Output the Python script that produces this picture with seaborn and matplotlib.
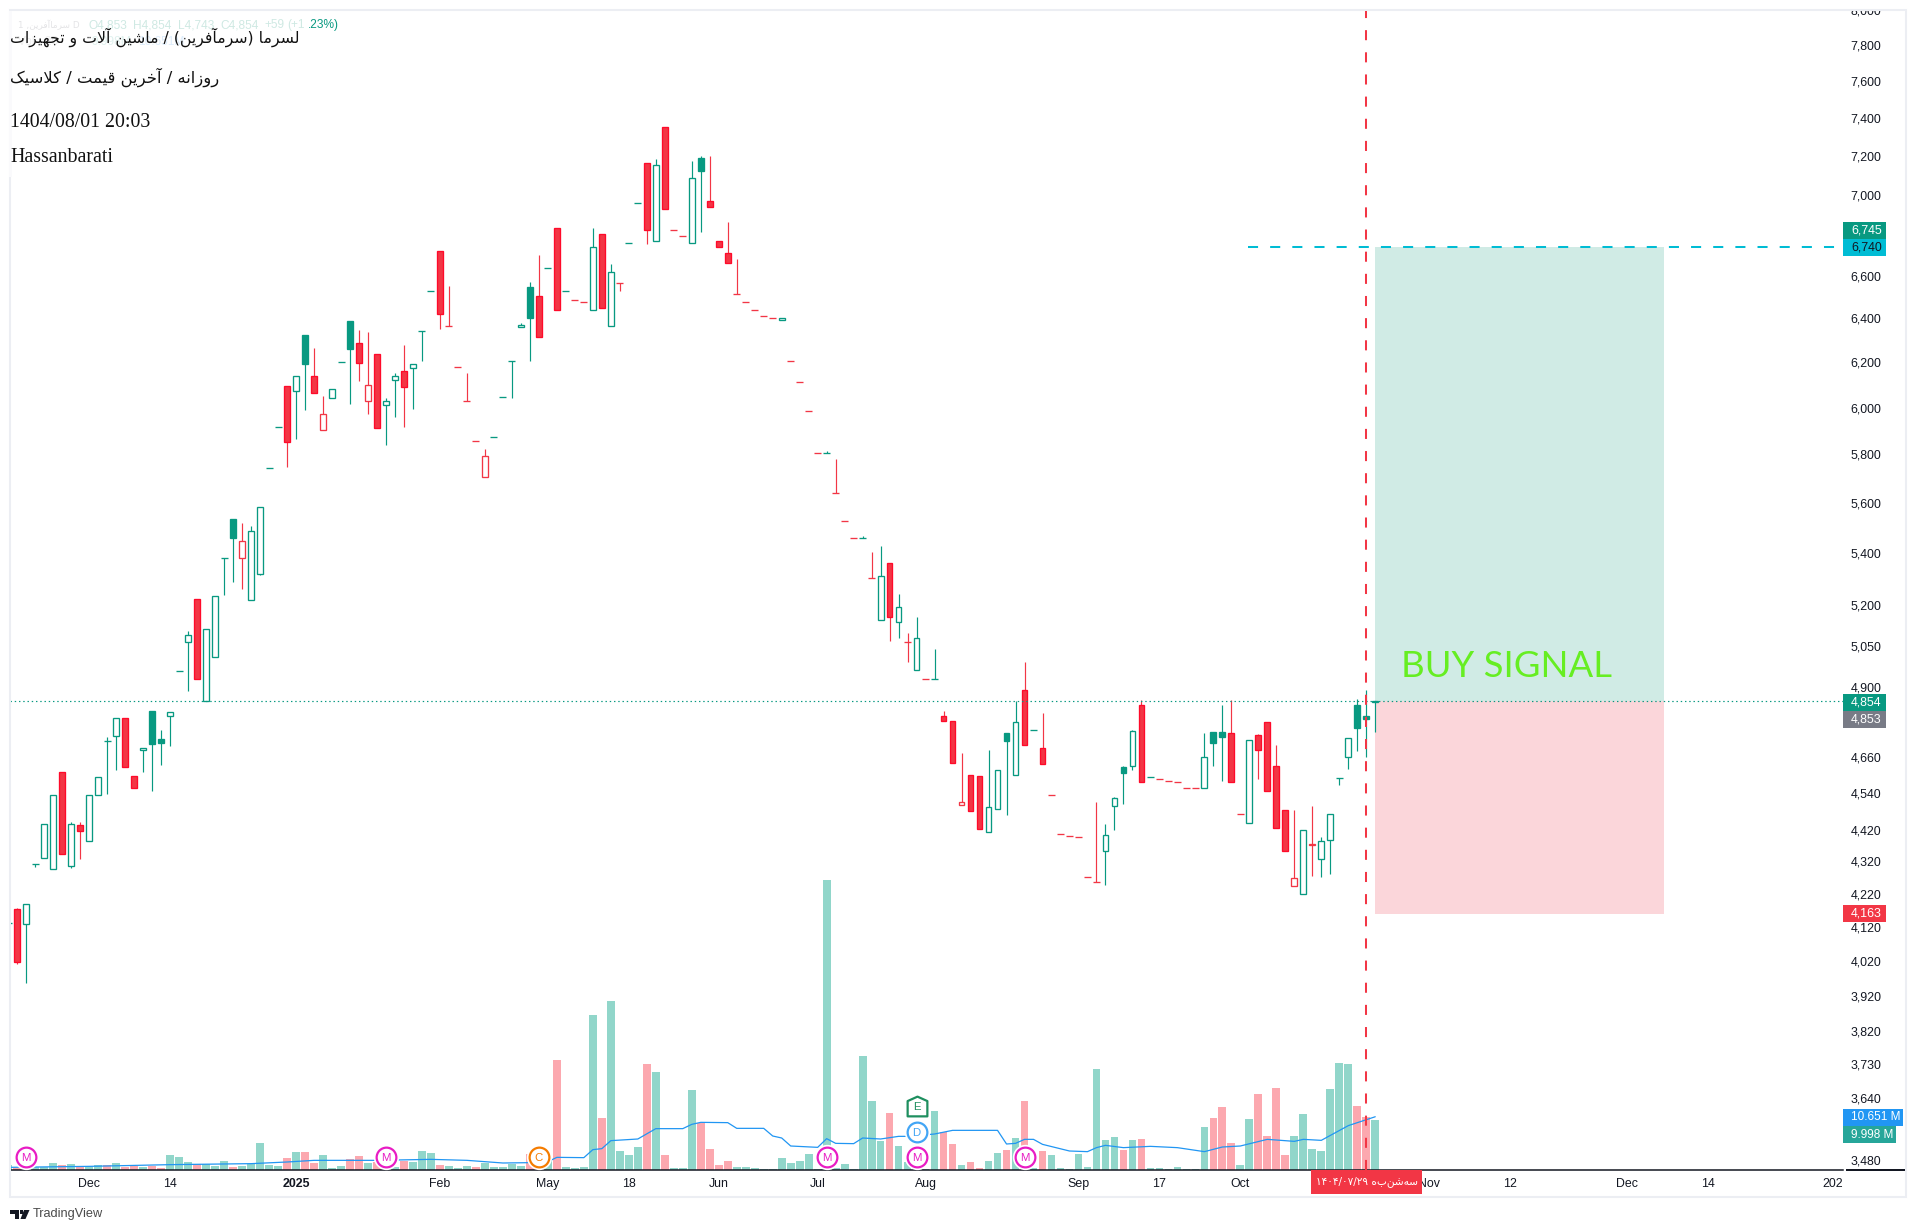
import re
import numpy as np
import pandas as pd
import matplotlib
matplotlib.use("Agg")
import matplotlib.pyplot as plt
from matplotlib.patches import Rectangle, Polygon
from matplotlib.ticker import FixedLocator, FuncFormatter, NullLocator
from matplotlib.transforms import blended_transform_factory
from matplotlib.path import Path
import seaborn as sns

# ---------- data ----------
opens = [4131,4172,4128,4311,4329,4295,4607,4304,4434,4383,4534,4712,4729,4791,4594,4681,4815,4719,4798,4957,
 5062,5222,4853,5010,5379,5533,5379,5218,5320,5745,5918,6092,6074,6322,6137,5901,6043,6199,6386,6285,
 6030,6239,6013,6119,6159,6172,6340,6530,6722,6363,6177,6030,5858,5704,5875,6047,6206,6358,6545,6506,
 6636,6831,6526,6487,6478,6441,6801,6363,6564,6761,6955,7160,6771,7353,6821,6791,6761,7190,6965,6771,
 6712,6516,6478,6441,6409,6400,6391,6204,6110,5983,5807,5807,5642,5525,5458,5458,5302,5144,5360,5136,
 5065,4960,4928,4928,4798,4781,4501,4597,4594,4412,4488,4739,4597,4892,4750,4691,4534,4405,4399,4396,
 4270,4255,4351,4495,4624,4628,4836,4591,4584,4577,4574,4557,4554,4554,4743,4743,4739,4472,4440,4732,
 4777,4628,4482,4245,4218,4370,4326,4386,4588,4658,4836,4798,4849]
highs = [4131,4178,4189,4311,4437,4534,4607,4445,4445,4534,4591,4726,4791,4791,4594,4691,4815,4750,4812,4957,
 5103,5222,5110,5233,5379,5533,5517,5505,5585,5745,5918,6092,6137,6322,6266,6052,6079,6199,6386,6345,
 6335,6239,6043,6150,6276,6190,6340,6530,6722,6554,6177,6150,5858,5824,5875,6047,6206,6377,6569,6699,
 6636,6831,6526,6487,6478,6831,6801,6655,6564,6761,6955,7160,7180,7353,6821,6791,7170,7200,7200,6771,
 6860,6683,6478,6441,6409,6400,6400,6204,6110,5983,5807,5816,5779,5525,5458,5466,5406,5426,5360,5242,
 5095,5155,4928,5036,4815,4781,4672,4597,4594,4684,4614,4739,4853,4989,4750,4808,4534,4405,4399,4396,
 4270,4508,4437,4527,4628,4750,4856,4591,4584,4577,4574,4557,4554,4739,4743,4836,4856,4472,4715,4736,
 4777,4698,4482,4485,4418,4495,4396,4472,4588,4722,4860,4892,4850]
lows = [4131,4012,3957,4303,4329,4295,4342,4300,4328,4383,4534,4536,4616,4624,4554,4610,4546,4633,4697,4957,
 4887,4928,4853,5010,5239,5289,5262,5218,5316,5745,5918,5748,5865,5989,6065,5901,6043,6199,6015,6117,
 5972,5910,5840,5960,5914,5994,6206,6530,6352,6363,6177,6030,5858,5704,5875,6047,6041,6358,6206,6312,
 6636,6441,6526,6487,6478,6441,6450,6363,6528,6761,6955,6754,6771,6925,6821,6791,6761,6814,6935,6741,
 6664,6516,6478,6441,6409,6400,6391,6204,6110,5983,5807,5807,5642,5525,5458,5458,5302,5144,5068,5079,
 4991,4960,4928,4928,4781,4638,4501,4479,4421,4412,4488,4468,4597,4698,4750,4634,4534,4405,4399,4396,
 4270,4255,4247,4420,4504,4614,4574,4591,4584,4577,4574,4557,4554,4554,4629,4578,4576,4472,4440,4586,
 4544,4424,4351,4245,4218,4275,4272,4282,4567,4620,4680,4660,4743]
closes = [4131,4016,4189,4311,4437,4534,4342,4437,4415,4534,4591,4712,4791,4624,4554,4691,4704,4707,4812,4957,
 5088,4928,5110,5233,5379,5460,5446,5485,5585,5745,5918,5854,6137,6193,6065,5974,6079,6199,6260,6195,
 6097,5910,6030,6137,6088,6190,6340,6530,6418,6363,6177,6030,5858,5791,5875,6047,6206,6370,6403,6312,
 6636,6441,6526,6487,6478,6741,6450,6616,6564,6761,6955,6821,7149,6925,6821,6791,7083,7119,6935,6741,
 6664,6516,6478,6441,6409,6400,6400,6204,6110,5983,5807,5807,5642,5525,5458,5458,5302,5310,5155,5192,
 5065,5077,4928,4928,4781,4638,4508,4479,4421,4492,4614,4714,4777,4698,4750,4634,4534,4405,4399,4396,
 4270,4255,4402,4524,4604,4746,4574,4591,4584,4577,4574,4557,4554,4658,4707,4728,4576,4472,4715,4684,
 4544,4424,4351,4267,4418,4376,4383,4472,4588,4722,4757,4790,4850]
red_candles = [0,5,7,12,13,20,25,30,33,34,38,39,40,43,47,48,49,50,51,52,58,60,62,63,65,67,70,72,73,74,77,78,79,
 80,81,82,83,84,86,87,88,89,91,92,93,95,97,99,101,103,104,105,106,107,112,114,115,116,117,118,119,120,125,
 127,128,129,130,131,135,136,138,139,140,141,142,144]
volumes = [1.0,.47,.33,.67,.67,1.4,1.0,1.2,.73,.73,1.0,.93,1.4,.67,.73,.67,.87,.4,3.0,2.6,
 1.6,1.13,1.2,.87,1.8,.67,.87,1.27,5.4,1.0,.8,2.4,3.6,3.6,1.4,3.0,.4,.8,2.2,2.8,
 1.4,1.6,.47,.6,1.8,1.6,3.8,3.4,1.0,.8,.4,.8,.6,1.4,.6,.6,1.2,.8,3.2,.47,
 2.1,22.0,.6,.4,.6,31.0,10.4,33.8,3.8,3.0,4.6,21.2,19.6,3.0,.4,.4,16.0,9.5,4.2,1.0,
 1.8,.6,.6,.4,.2,.2,2.4,1.4,1.8,3.2,.2,58.0,.5,1.2,.2,22.8,13.8,5.8,11.4,4.8,
 1.6,.3,.2,11.8,7.6,5.2,1.0,1.6,.4,1.8,3.4,4.0,6.4,13.8,.5,3.8,3.0,.4,.2,3.2,
 .6,20.2,6.0,6.6,4.0,6.0,6.2,.4,.4,.2,.6,.2,.2,8.6,10.4,12.6,5.4,1.0,10.2,15.2,
 6.8,16.4,3.0,6.8,11.2,4.2,3.8,16.2,21.4,21.2,12.8,10.6,9.998]
red_volumes = [0,5,7,10,12,13,15,16,20,24,30,32,33,37,38,40,43,47,51,57,58,60,65,70,72,76,77,78,79,97,103,104,
 106,107,110,112,114,123,125,133,134,135,138,139,140,141,149,150]
ma_bars = [-1,8,17,26,30,33,40,46,50,54,57,59,60,63,64,65,66,69,71,74,75,76,79,80,83,84,85,86,89,90,91,93,94,96,
 98,99,102,104,109,110,111,112,113,114,117,119,120,121,123,126,129,132,134,136,139,142,143,145,148,151]
ma_vals = [.53,.73,1.07,1.27,1.6,1.93,1.93,2.13,1.93,1.4,1.47,1.67,2.53,2.47,4.07,4.27,5.87,6.2,8.27,8.27,9.13,
 9.53,9.47,8.33,8.33,6.8,6.4,4.8,4.53,6.27,5.33,5.27,6.4,6.2,6.73,6.73,7.2,7.93,7.93,5.2,5.33,6.13,6.13,5.13,
 3.8,3.67,4.47,4.93,4.47,4.73,4.47,3.67,4.6,4.8,6.13,5.73,6.13,5.93,8.87,10.651]
price_ticks = [8000,7800,7600,7400,7200,7000,6600,6400,6200,6000,5800,5600,5400,5200,5050,4900,4660,4540,4420,
 4320,4220,4120,4020,3920,3820,3730,3640,3480]
date_ticks = [8,17,31,47,59,68,78,89,101,118,127,136,157,166,179,188,202.3]
date_labels = ["Dec","14","2025","Feb","May","18","Jun","Jul","Aug","Sep","17","Oct","Nov","12","Dec","14","2026"]
target_level, last_level, stop_level = 6740, 4850, 4159
box_start, box_end = 151, 183.1
signal_bar = 150
dash_start = 136.9
m_events = [1, 41, 90, 100, 112]
title_1 = "لسرما (سرمآفرین) / ماشین آلات و تجهیزات"
title_2 = "روزانه / آخرین قیمت / کلاسیک"
title_3 = "1404/08/01 20:03"
title_4 = "Hassanbarati"
cursor_date = "سه\u200cشنبه ۱۴۰۴/۰۷/۲۹"
symbol_name = "سرماآفرین"

assert len(opens)==len(highs)==len(lows)==len(closes)==len(volumes)==153
assert len(ma_bars)==len(ma_vals)

# ---------- right-to-left shaping for matplotlib ----------
FORMS = {'ل':(0xFEDD,0xFEDE,0xFEDF,0xFEE0),'س':(0xFEB1,0xFEB2,0xFEB3,0xFEB4),'ر':(0xFEAD,0xFEAE),
 'م':(0xFEE1,0xFEE2,0xFEE3,0xFEE4),'ا':(0xFE8D,0xFE8E),'آ':(0xFE81,0xFE82),'ف':(0xFED1,0xFED2,0xFED3,0xFED4),
 'ی':(0xFBFC,0xFBFD,0xFBFE,0xFBFF),'ن':(0xFEE5,0xFEE6,0xFEE7,0xFEE8),'ش':(0xFEB5,0xFEB6,0xFEB7,0xFEB8),
 'ت':(0xFE95,0xFE96,0xFE97,0xFE98),'و':(0xFEED,0xFEEE),'ج':(0xFE9D,0xFE9E,0xFE9F,0xFEA0),
 'ه':(0xFEE9,0xFEEA,0xFEEB,0xFEEC),'ز':(0xFEAF,0xFEB0),'خ':(0xFEA5,0xFEA6,0xFEA7,0xFEA8),
 'ق':(0xFED5,0xFED6,0xFED7,0xFED8),'ک':(0xFB8E,0xFB8F,0xFB90,0xFB91)}
LIGA = {'ا':(0xFEFB,0xFEFC),'آ':(0xFEF5,0xFEF6)}
def shape(s):
    out, i = [], 0
    while i < len(s):
        c = s[i]
        if c not in FORMS:
            if c != '\u200c':
                out.append(c)
            i += 1
            continue
        prev = s[i-1] if i else ''
        nxt = s[i+1] if i+1 < len(s) else ''
        pj = prev in FORMS and len(FORMS[prev]) == 4
        if c == 'ل' and nxt in LIGA:
            out.append(chr(LIGA[nxt][1 if pj else 0]))
            i += 2
            continue
        f = FORMS[c]
        nj = len(f) == 4 and nxt in FORMS
        out.append(chr(f[3] if pj and nj else f[1] if pj else f[2] if nj else f[0]))
        i += 1
    toks = re.findall(r'[۰-۹]+(?:/[۰-۹]+)*|.', ''.join(out))[::-1]
    return ''.join({'(':')', ')':'('}.get(t, t) for t in toks)

# ---------- figure ----------
W, H = 1917, 1232
L_, R_, T_, B_ = 10, 1843, 10, 1170
sns.set_theme(style="white")
plt.rcParams['font.family'] = ['Liberation Sans', 'DejaVu Sans']
INK = '#131722'; GREEN = '#089981'; RED = '#f23645'; RED_FILL_EDGE = '#ff0a2a'
fig = plt.figure(figsize=(W/100, H/100), dpi=100, facecolor='white')
X = lambda x: x/W
Y = lambda y: 1-y/H
ax_vol = fig.add_axes([X(L_), Y(B_), (R_-L_)/W, (B_-T_)/H])
bars = np.arange(-1, 152)
x_left, x_right = (L_-17.3)/8.993, (R_-17.3)/8.993

vol_df = pd.DataFrame({'bar': bars, 'volume': volumes,
                       'side': ['down' if b in red_volumes else 'up' for b in bars]})
sns.barplot(data=vol_df, x='bar', y='volume', hue='side', native_scale=True, dodge=False, width=0.86,
            palette={'up': '#91d6ca', 'down': '#fca8af'}, saturation=1, legend=False, ax=ax_vol, linewidth=0)
sns.lineplot(x=ma_bars, y=ma_vals, color='#2196f3', linewidth=0.9, errorbar=None, ax=ax_vol, zorder=4)
ax_vol.set_ylim(0, 232)

ax = ax_vol.twinx()
ax.set_yscale('log')
ax.patch.set_visible(False)

ax.fill_between([box_start, box_end], last_level, target_level, color='#d0ebe5', lw=0, zorder=1)
ax.fill_between([box_start, box_end], stop_level, last_level, color='#fbd6da', lw=0, zorder=1)

colors = np.array([RED if b in red_candles else GREEN for b in bars])
ax.vlines(bars, lows, highs, colors=colors, linewidth=0.85, zorder=2)
o, c = np.array(opens, float), np.array(closes, float)
low_body, tall = np.minimum(o, c), np.abs(c-o)
face = ['white' if cl > op else col for op, cl, col in zip(o, c, colors)]
edge = [RED_FILL_EDGE if (col == RED and cl < op) else col for op, cl, col in zip(o, c, colors)]
is_body = tall > 0
ax.bar(bars[is_body], tall[is_body], bottom=low_body[is_body], width=0.64,
       color=np.array(face)[is_body], edgecolor=np.array(edge)[is_body], linewidth=0.95, zorder=3)
ax.hlines(o[~is_body], bars[~is_body]-0.39, bars[~is_body]+0.39, colors=colors[~is_body], linewidth=0.95, zorder=3)

ax.hlines(last_level, x_left, x_right, colors=GREEN, linewidth=0.85, linestyles=[(0, (1.2, 2.4))], zorder=4)
ax.hlines(target_level, dash_start, x_right, colors='#00bcd4', linewidth=1.45, linestyles=[(0, (5, 6))], zorder=4)
ax.axvline(signal_bar, color=RED, linewidth=1.45, linestyle=(0, (5, 6)), zorder=5)

ax_vol.set_xlim(x_left, x_right)
ax.set_ylim(3455, 8000.5)

# event icons
tr = blended_transform_factory(ax.transData, ax.transAxes)
def event(x, yf, col, letter, marker='o', size=14.2):
    ax.plot([x], [yf], marker=marker, ms=size+3, mfc='white', mec='white', transform=tr, zorder=6, clip_on=False, ls='none')
    ax.plot([x], [yf], marker=marker, ms=size, mfc='white', mec=col, mew=1.6, transform=tr, zorder=7, clip_on=False, ls='none')
    ax.text(x, yf, letter, color=col, fontsize=8.2, ha='center', va='center_baseline', transform=tr, zorder=8)
for b in m_events:
    event(b, 0.0116, '#e81cc4', 'M')
event(58, 0.0116, '#f57c00', 'C')
event(100, 0.0328, '#42a5f5', 'D')
house = Path([(-1,-1),(1,-1),(1,.55),(0,1),(-1,.55),(-1,-1)], closed=True)
event(100, 0.0552, '#1e8f5f', 'E', marker=house, size=14.2)

# axes furniture
for a in (ax, ax_vol):
    for s in ('top', 'left', 'right'):
        a.spines[s].set_visible(False)
    a.spines['bottom'].set_visible(a is ax_vol)
ax_vol.spines['bottom'].set_color(INK); ax_vol.spines['bottom'].set_linewidth(1.1)
ax_vol.set_xlabel(''); ax_vol.set_ylabel('')
ax_vol.set_yticks([])
ax_vol.set_xticks(date_ticks)
ax_vol.set_xticklabels(date_labels, fontsize=8.9, color=INK)
ax_vol.tick_params(axis='x', length=0, pad=5.7)
for lab in ax_vol.get_xticklabels():
    if lab.get_text() == '2025':
        lab.set_fontweight('bold')
ax.set_ylabel('')
ax.yaxis.set_major_locator(FixedLocator(price_ticks))
ax.yaxis.set_minor_locator(NullLocator())
ax.yaxis.set_major_formatter(FuncFormatter(lambda v, _: f"{v:,.0f}"))
ax.tick_params(axis='y', which='both', length=0, pad=5.5, labelsize=8.9, labelcolor=INK)
ax.grid(False); ax_vol.grid(False)

def frect(x0, y0, x1, y1, col, z=10, **kw):
    fig.add_artist(Rectangle((X(x0), Y(y1)), (x1-x0)/W, (y1-y0)/H, transform=fig.transFigure,
                             facecolor=col, edgecolor='none', zorder=z, **kw))
def ftext(x, y, s, z=12, **kw):
    kw.setdefault('va', 'center'); kw.setdefault('ha', 'left')
    fig.text(X(x), Y(y), s, zorder=z, **kw)

# clip strips and outer frame
frect(0, 0, W, 9, 'white', z=5)
frect(R_, B_+1, 1906, 1196, 'white', z=5)
frect(1846, B_-1, 1906, B_+1, INK, z=6)
fig.add_artist(Rectangle((X(10), Y(1197)), (1906-10)/W, (1197-10)/H, transform=fig.transFigure,
                         facecolor='none', edgecolor='#eceef3', linewidth=1.45, zorder=6))
frect(9, 11, 12, 177, '#fafafc', z=7)

# price labels
def tag(y0, y1, x1, col, s, tc='white', size=8.9):
    frect(R_, y0, x1, y1, col)
    ftext(1851, (y0+y1)/2, s, color=tc, fontsize=size)
tag(222, 239, 1886, GREEN, '6,745')
tag(239, 256, 1886, '#00bcd4', '6,740', INK)
tag(694, 711, 1886, GREEN, '4,854')
tag(711, 728, 1886, '#787b86', '4,853')
tag(905, 922, 1886, RED, '4,163')
tag(1109, 1126, 1903, '#2196f3', '10.651 M', size=8.5)
tag(1126, 1143, 1896, '#26a69a', '9.998 M', size=8.5)

# cursor date label
frect(1311, 1170, 1422, 1194, RED)
ftext(1366.5, 1182, shape(cursor_date), color='white', fontsize=7.6, ha='center', family=['DejaVu Sans'])

# faded legend
for x, s in [(88,'O4,853'),(133,'H4,854'),(178,'L4,743'),(220,'C4,854'),(264,'+59'),(287,'(+1')]:
    ftext(x, 25, s, color='#cfe9e3', fontsize=8.6)
ftext(308, 25, '.23%)', color=GREEN, fontsize=8.6)
ftext(18, 25, '1 ,' + shape(symbol_name) + ' D', color='#e4e4e6', fontsize=6.4, family=['DejaVu Sans'])
ftext(18, 42, 'Vol · 20', color='#eeeeee', fontsize=8.6)
ftext(91, 42, '9.998M', color='#dff1ee', fontsize=8.6)
ftext(138, 42, '10.651M', color='#dcecfb', fontsize=8.6)

# titles
ftext(10, 37, shape(title_1), color='#111111', fontsize=11.3, family=['DejaVu Sans'])
ftext(10, 77, shape(title_2), color='#111111', fontsize=11.75, family=['DejaVu Sans'])
ftext(10, 122.5, title_3, color='#111111', fontsize=14.3, family=['Liberation Serif'])
ftext(10, 158, title_4, color='#111111', fontsize=14.3, family=['Liberation Serif'])

# signal text
ftext(1401, 677, 'BUY SIGNAL', color='#66ee22', fontsize=26.3, va='baseline', family=['Lato'])

# TradingView mark
fig.add_artist(Polygon([(X(10),Y(1210)),(X(18.5),Y(1210)),(X(18.5),Y(1219)),(X(14.5),Y(1219)),(X(14.5),Y(1214)),(X(10),Y(1214))],
                       closed=True, transform=fig.transFigure, facecolor='#131722', edgecolor='none', zorder=10))
fig.add_artist(Polygon([(X(24),Y(1210)),(X(29.5),Y(1210)),(X(25.5),Y(1219)),(X(20.5),Y(1219))],
                       closed=True, transform=fig.transFigure, facecolor='#131722', edgecolor='none', zorder=10))
frect(19.5, 1210, 22.5, 1213.5, '#131722')
ftext(33, 1214, 'TradingView', color='#4a4a4a', fontsize=9.2)

fig.savefig('out.png', dpi=100)
